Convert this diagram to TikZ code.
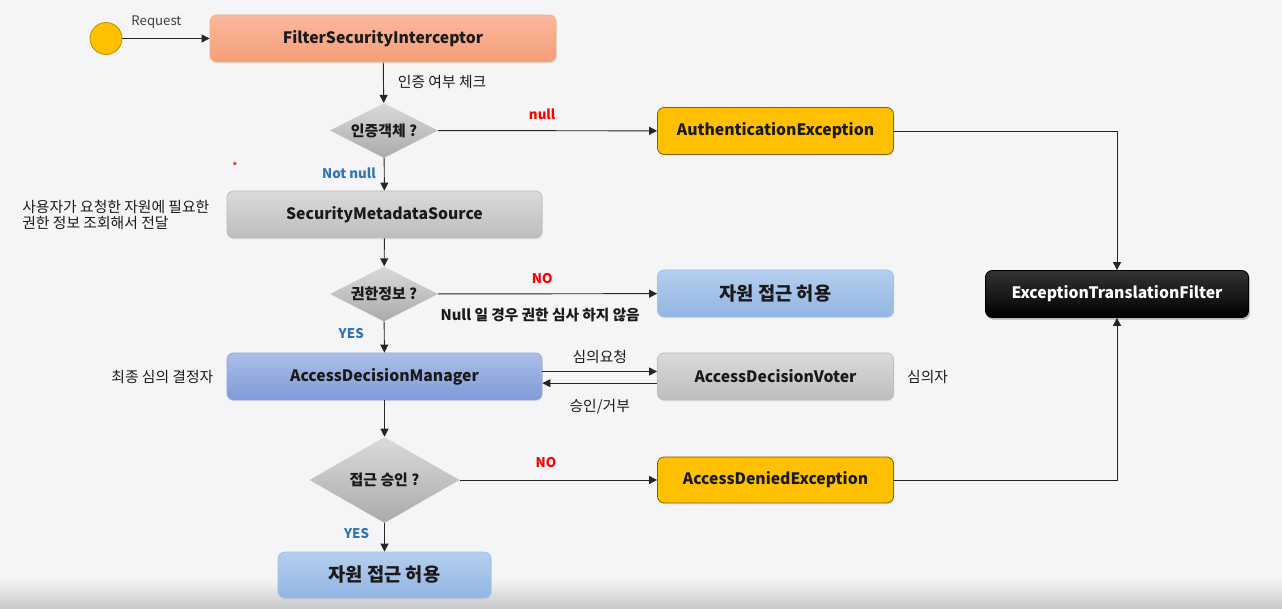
\documentclass[tikz,border=0pt]{standalone}
\usepackage{fontspec}
\setmainfont{Noto Sans CJK KR}
\usepackage{tikz}
\usetikzlibrary{
    arrows.meta,
    shapes.geometric,
    shadows,
    positioning
}
\definecolor{bgcol}{HTML}{F5F5F7}
\definecolor{bgdark}{HTML}{C9C9CB}
\definecolor{fsitop}{HTML}{FAB89C}
\definecolor{fsibot}{HTML}{F59E78}
\definecolor{fsiline}{HTML}{F4B183}
\definecolor{graytop}{HTML}{DADADA}
\definecolor{graybot}{HTML}{BDBDBD}
\definecolor{blutop}{HTML}{B5CEEF}
\definecolor{blubot}{HTML}{92B5E3}
\definecolor{bluline}{HTML}{9DC3E6}
\definecolor{admtop}{HTML}{ACBEE8}
\definecolor{admbot}{HTML}{8099D7}
\definecolor{admline}{HTML}{8FAADC}
\definecolor{excfill}{HTML}{FFC000}
\definecolor{excline}{HTML}{7F6000}
\definecolor{noyes}{HTML}{2E75B6}
\definecolor{darktext}{HTML}{1A1A1A}
\tikzstyle{box} = [
    rectangle,
    rounded corners=5pt,
    minimum width=177pt,
    minimum height=35.25pt,
    line width=0.6pt,
    text=darktext,
    font=\fontsize{11.8}{14}\selectfont\bfseries,
    drop shadow={opacity=0.15, shadow xshift=0.6pt, shadow yshift=-1pt}
]
\tikzstyle{fsibox} = [box, minimum width=259.5pt, top color=fsitop, bottom color=fsibot, draw=fsiline]
\tikzstyle{graybox} = [box, top color=graytop, bottom color=graybot, draw=graybot]
\tikzstyle{allowbox} = [box, top color=blutop, bottom color=blubot, draw=bluline,
    font=\fontsize{14}{16}\selectfont\bfseries]
\tikzstyle{admbox} = [box, minimum width=236.25pt, top color=admtop, bottom color=admbot, draw=admline]
\tikzstyle{excbox} = [box, fill=excfill, draw=excline]
\tikzstyle{etfbox} = [box, minimum width=197.25pt, top color=black!80, bottom color=black,
    draw=black, text=white,
    drop shadow={opacity=0.4, shadow xshift=1.2pt, shadow yshift=-1.8pt}]
\tikzstyle{decision} = [
    diamond,
    aspect=2,
    inner sep=0pt,
    minimum width=81pt,
    minimum height=41.25pt,
    top color=graytop,
    bottom color=graybot!90!black,
    text=darktext,
    font=\fontsize{11.2}{12}\selectfont\bfseries
]
\tikzstyle{startnode} = [circle, minimum size=24pt, inner sep=0pt, fill=excfill, draw=excfill!75!black, line width=0.6pt]
\tikzstyle{note} = [inner sep=0pt, text=darktext, font=\fontsize{11.1}{12}\selectfont]
\tikzstyle{tag} = [inner sep=0pt, font=\fontsize{10}{12}\selectfont\bfseries]
\tikzstyle{arrow} = [
    -{Triangle[length=6pt, width=6pt]},
    line width=0.7pt,
    draw=black!85
]

\begin{document}
\begin{tikzpicture}[x=0.75pt, y=-0.75pt]
    % Background
    \fill[bgcol] (0,0) rectangle (1282,609);
    \shade[top color=bgcol, bottom color=bgdark] (0,578) rectangle (1282,609);
    \useasboundingbox (0,0) rectangle (1282,609);

    % Main flow
    \node[startnode] (start) at (106,38.5) {};
    \node[fsibox] (fsi) at (383,38.5) {FilterSecurityInterceptor};
    \node[decision] (authcheck) at (384,130.5) {인증객체 ?};
    \node[graybox, minimum width=236.25pt] (sms) at (384.5,214.5) {SecurityMetadataSource};
    \node[decision] (authzinfo) at (384,294) {권한정보 ?};
    \node[admbox] (adm) at (384.5,376.5) {AccessDecisionManager};
    \node[decision, aspect=1.75, minimum width=112.5pt, minimum height=64.5pt] (grant) at (384.5,480) {접근 승인 ?};
    \node[allowbox, minimum width=159.75pt, minimum height=34.5pt] (allowlast) at (384.5,575) {자원 접근 허용};

    % Right column
    \node[excbox] (authex) at (775.5,131) {AuthenticationException};
    \node[allowbox] (allownull) at (775.5,293.5) {자원 접근 허용};
    \node[graybox] (adv) at (775.5,376.5) {AccessDecisionVoter};
    \node[excbox, minimum height=34.5pt] (denied) at (775.5,480) {AccessDeniedException};
    \node[etfbox] (etf) at (1117,294) {ExceptionTranslationFilter};

    % Side notes
    \node[note, align=left, left=12.75pt of sms] (smsnote) {사용자가 요청한 자원에 필요한\\권한 정보 조회해서 전달};
    \node[note, left=9.75pt of adm] (admnote) {최종 심의 결정자};
    \node[note, right=9.75pt of adv] (advnote) {심의자};
    \node[inner sep=0pt, text=red, font=\fontsize{9}{9}\selectfont] (mark) at (235,167) {*};

    % Connectors
    \draw[arrow] (start) -- node[pos=0.39, yshift=12.4pt, inner sep=0pt, text=black!75,
        font=\fontsize{9.9}{12}\selectfont] {Request} (fsi);
    \draw[arrow] (fsi) -- node[note, pos=0.49, anchor=west, xshift=10.5pt] {인증 여부 체크} (authcheck);
    \draw[arrow] (authcheck) -- node[tag, text=red, pos=0.475, yshift=12pt] {null} (authex);
    \draw[arrow] (authcheck) -- node[tag, text=noyes, pos=0.47, anchor=east, xshift=-6pt] {Not null} (sms);
    \draw[arrow] (sms) -- (authzinfo);
    \draw[arrow] (authzinfo) -- node[tag, text=red, pos=0.475, yshift=11.25pt] {NO}
        node[tag, pos=0.466, yshift=-15.75pt, text=darktext, font=\fontsize{11}{12}\selectfont\bfseries] {Null 일 경우 권한 심사 하지 않음} (allownull);
    \draw[arrow] (authzinfo) -- node[tag, text=noyes, pos=0.375, anchor=east, xshift=-15pt] {YES} (adm);
    \draw[arrow] ([yshift=3.75pt]adm.east) -- node[note, pos=0.5, yshift=10.9pt] {심의요청} ([yshift=3.75pt]adv.west);
    \draw[arrow] ([yshift=-5pt]adv.west) -- node[note, pos=0.5, yshift=-18pt] {승인/거부} ([yshift=-5pt]adm.east);
    \draw[arrow] (adm) -- (grant);
    \draw[arrow] (grant) -- node[tag, text=red, pos=0.437, yshift=12.75pt] {NO} (denied);
    \draw[arrow] (grant) -- node[tag, text=noyes, pos=0.345, anchor=east, xshift=-11.25pt] {YES} (allowlast);
    \draw[arrow] (authex) -| (etf);
    \draw[arrow] (denied) -| (etf);
\end{tikzpicture}
\end{document}
